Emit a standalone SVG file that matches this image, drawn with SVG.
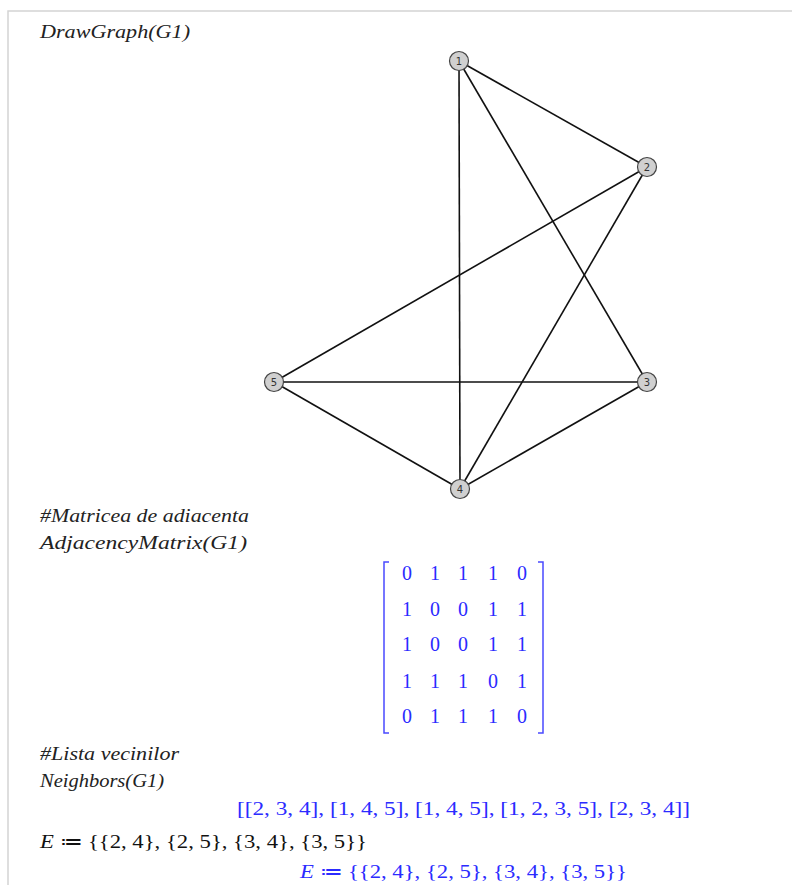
<svg xmlns="http://www.w3.org/2000/svg" width="792" height="885" viewBox="0 0 792 885">
<style>
.in{font-family:"Liberation Serif","Times New Roman",serif;font-style:italic;font-size:19px;fill:#222}
.out{font-family:"Liberation Serif","Times New Roman",serif;font-size:19px;fill:#2b2bff}
.mx{font-size:20px}
.node circle{fill:#d0d0d0;stroke:#444;stroke-width:1.2}
.node text{font-family:"DejaVu Sans",sans-serif;font-size:10px;fill:#333;text-anchor:middle}
.edges line{stroke:#111;stroke-width:1.6}
.brk{fill:none;stroke:#4a4aff;stroke-width:1.5}
</style>
<rect width="792" height="885" fill="#fff"/>
<path d="M8 885 V11 H792" fill="none" stroke="#d4d4d4" stroke-width="1.5"/>
<text class="in" x="40" y="38" textLength="150" lengthAdjust="spacingAndGlyphs">DrawGraph(G1)</text>
<g class="edges">
<line x1="459" y1="61" x2="647" y2="167"/>
<line x1="459" y1="61" x2="647" y2="382"/>
<line x1="459" y1="61" x2="460" y2="489"/>
<line x1="647" y1="167" x2="274" y2="382"/>
<line x1="647" y1="167" x2="460" y2="489"/>
<line x1="274" y1="382" x2="647" y2="382"/>
<line x1="274" y1="382" x2="460" y2="489"/>
<line x1="647" y1="382" x2="460" y2="489"/>
</g>
<g id="n1" class="node"><circle cx="459" cy="61" r="9.5"/><text x="459" y="64.5">1</text></g>
<g id="n2" class="node"><circle cx="647" cy="167" r="9.5"/><text x="647" y="170.5">2</text></g>
<g id="n3" class="node"><circle cx="647" cy="382" r="9.5"/><text x="647" y="385.5">3</text></g>
<g id="n4" class="node"><circle cx="460" cy="489" r="9.5"/><text x="460" y="492.5">4</text></g>
<g id="n5" class="node"><circle cx="274" cy="382" r="9.5"/><text x="274" y="385.5">5</text></g>
<text class="in" x="40" y="522" textLength="209" lengthAdjust="spacingAndGlyphs">#Matricea de adiacenta</text>
<text class="in" x="40" y="549" textLength="207" lengthAdjust="spacingAndGlyphs">AdjacencyMatrix(G1)</text>
<path class="brk" d="M389 562 H384 V733 H389"/>
<path class="brk" d="M538 562 H543 V733 H538"/>
<g class="out mx" text-anchor="middle">
<text x="407" y="580">0</text><text x="435" y="580">1</text><text x="463" y="580">1</text><text x="493" y="580">1</text><text x="522" y="580">0</text>
<text x="407" y="616">1</text><text x="435" y="616">0</text><text x="463" y="616">0</text><text x="493" y="616">1</text><text x="522" y="616">1</text>
<text x="407" y="651">1</text><text x="435" y="651">0</text><text x="463" y="651">0</text><text x="493" y="651">1</text><text x="522" y="651">1</text>
<text x="407" y="688">1</text><text x="435" y="688">1</text><text x="463" y="688">1</text><text x="493" y="688">0</text><text x="522" y="688">1</text>
<text x="407" y="723">0</text><text x="435" y="723">1</text><text x="463" y="723">1</text><text x="493" y="723">1</text><text x="522" y="723">0</text>
</g>
<text class="in" x="40" y="760" textLength="139" lengthAdjust="spacingAndGlyphs">#Lista vecinilor</text>
<text class="in" x="40" y="787" textLength="124" lengthAdjust="spacingAndGlyphs">Neighbors(G1)</text>
<text class="out" x="237" y="815" textLength="453" lengthAdjust="spacingAndGlyphs">[[2, 3, 4], [1, 4, 5], [1, 4, 5], [1, 2, 3, 5], [2, 3, 4]]</text>
<text x="40" y="848" style="font-family:'Liberation Serif',serif;font-size:19px;fill:#111" textLength="327" lengthAdjust="spacingAndGlyphs"><tspan font-style="italic">E</tspan> ≔ {{2, 4}, {2, 5}, {3, 4}, {3, 5}}</text>
<text class="out" x="300" y="878" textLength="327" lengthAdjust="spacingAndGlyphs"><tspan font-style="italic">E</tspan> ≔ {{2, 4}, {2, 5}, {3, 4}, {3, 5}}</text>
</svg>
